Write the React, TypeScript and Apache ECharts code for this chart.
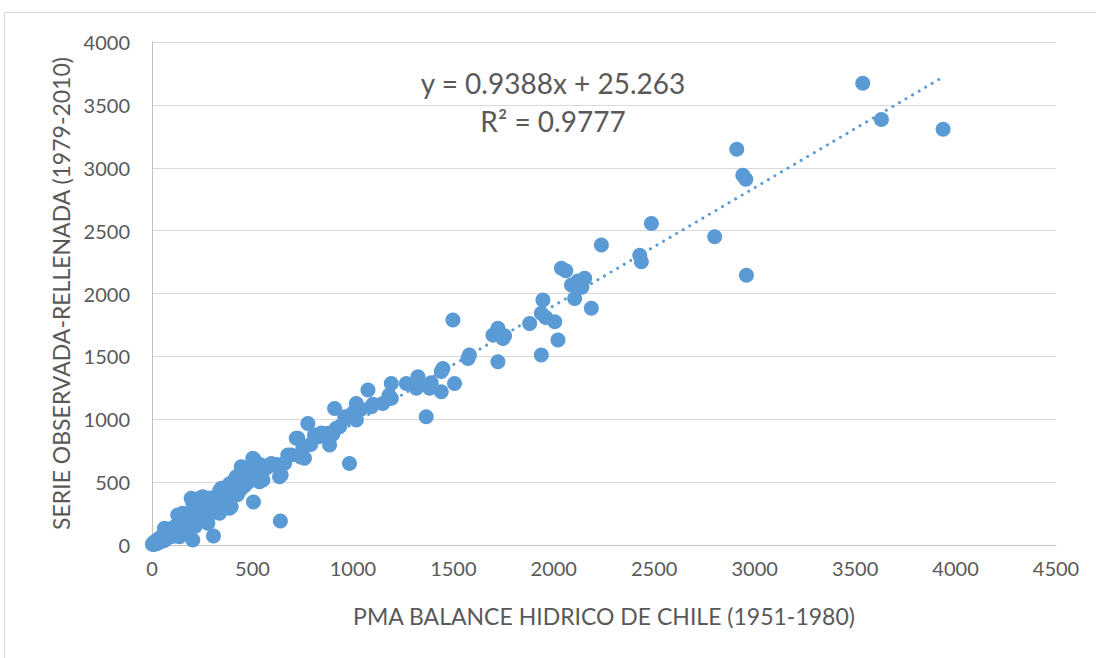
import React, { useEffect, useRef } from "react";
import * as echarts from "echarts";

const xTicks = [0, 500, 1000, 1500, 2000, 2500, 3000, 3500, 4000, 4500];
const yTicks = [0, 500, 1000, 1500, 2000, 2500, 3000, 3500, 4000];

const xName = "PMA BALANCE HIDRICO DE CHILE (1951-1980)";
const yName = "SERIE OBSERVADA-RELLENADA (1979-2010)";

const eqText = "y = 0.9388x + 25.263";
const r2Text = "R² = 0.9777";
const slope = 0.9388;
const intercept = 25.263;

// observed pairs [PMA, serie]
const lowPoints: number[][] = [
  [2, 5], [5, 12], [8, 3], [10, 20], [12, 8], [15, 25], [18, 14], [20, 30], [22, 10], [25, 40],
  [28, 22], [30, 35], [33, 18], [35, 50], [38, 30], [40, 45], [42, 60], [45, 28], [48, 55], [50, 40],
  [52, 70], [55, 48], [58, 62], [60, 80], [62, 35], [62, 133], [65, 72], [68, 90], [70, 55], [72, 100],
  [75, 66], [78, 85], [80, 110], [82, 60], [85, 95], [88, 120], [90, 75], [92, 105], [95, 130], [98, 88],
  [100, 115], [105, 70], [108, 140], [110, 98], [115, 125], [118, 150], [120, 85], [125, 110], [128, 238],
  [132, 167], [135, 130], [137, 66], [140, 160], [145, 120], [150, 180], [153, 252], [155, 100], [160, 140],
  [162, 93], [165, 200], [170, 150], [175, 175], [180, 120], [185, 210], [190, 160], [195, 371], [200, 230],
  [203, 40], [203, 334], [205, 190], [210, 260], [215, 150], [220, 210], [225, 280], [230, 240], [237, 371],
  [240, 200], [245, 300], [250, 260], [253, 384], [255, 220], [260, 320], [265, 280], [270, 225], [275, 340],
  [278, 172], [280, 300], [285, 250], [291, 374], [295, 330], [300, 280], [306, 72], [310, 360], [315, 310],
  [320, 260], [325, 390], [330, 340], [336, 252], [336, 429], [345, 437], [345, 451], [350, 380], [355, 330],
  [360, 410], [365, 300], [370, 440], [375, 370], [385, 485], [386, 292], [394, 305], [400, 420], [402, 503],
  [410, 460], [416, 509], [419, 543], [425, 400], [430, 480], [440, 440], [444, 622], [450, 520], [452, 618],
  [460, 470], [470, 540], [480, 500], [490, 560], [505, 342],
];

const highPoints: number[][] = [
  [502, 689], [510, 676], [510, 600], [520, 560], [535, 503], [544, 636], [552, 517], [560, 600], [575, 620],
  [594, 649], [602, 636], [620, 640], [635, 543], [643, 556], [639, 191], [660, 650], [676, 715], [693, 715],
  [718, 848], [726, 848], [740, 700], [751, 769], [759, 690], [776, 967], [790, 800], [809, 874], [830, 860],
  [844, 890], [876, 888], [884, 795], [900, 880], [909, 1086], [917, 928], [934, 940], [959, 1020], [967, 1007],
  [983, 649], [1000, 1050], [1017, 1126], [1017, 994], [1040, 1080], [1075, 1232], [1092, 1099], [1100, 1120],
  [1149, 1126], [1191, 1166], [1180, 1190], [1191, 1285], [1266, 1285], [1316, 1246], [1324, 1338],
  [1340, 1280], [1365, 1020], [1382, 1246], [1390, 1290], [1440, 1219], [1448, 1404], [1440, 1380],
  [1498, 1789], [1506, 1285], [1573, 1484], [1580, 1510], [1697, 1669], [1722, 1723], [1722, 1457],
  [1747, 1643], [1755, 1665], [1880, 1762], [1938, 1842], [1946, 1948], [1938, 1510], [1960, 1810],
  [2005, 1775], [2021, 1630], [2038, 2200], [2060, 2180], [2088, 2067], [2104, 1961], [2120, 2100],
  [2154, 2122], [2140, 2050], [2187, 1882], [2237, 2385], [2428, 2305], [2436, 2252], [2486, 2557],
  [2801, 2451], [2911, 3148], [2941, 2941], [2956, 2909], [2959, 2146], [3538, 3672], [3631, 3384],
  [3938, 3307],
];

const points = [...lowPoints, ...highPoints];

const FONT = "Lato";
const TXT = "#595959";
const BLUE = "#5b9bd5";

export default function App() {
  const ref = useRef<HTMLDivElement>(null);
  useEffect(() => {
    document.body.style.margin = "0";
    if (!ref.current) return;
    const chart = echarts.init(ref.current, undefined, { renderer: "svg" });
    const xs = points.map((p) => p[0]);
    const xmin = Math.min(...xs);
    const xmax = Math.max(...xs);
    const trend = [
      [xmin, slope * xmin + intercept],
      [xmax, slope * xmax + intercept],
    ];
    chart.setOption({
      animation: false,
      backgroundColor: "#ffffff",
      textStyle: { fontFamily: FONT },
      grid: { left: 152, right: 40, top: 42, bottom: 113 },
      graphic: [
        {
          type: "rect",
          shape: { x: 4.5, y: 12.5, width: 1200, height: 700 },
          style: { fill: "none", stroke: "#d9d9d9", lineWidth: 1 },
          silent: true,
          z: -10,
        },
        {
          type: "text",
          x: 553,
          y: 83,
          style: { text: eqText, fontFamily: FONT, fontSize: 28, fill: TXT, align: "center", verticalAlign: "middle" },
          z: 10,
        },
        {
          type: "text",
          x: 553,
          y: 121,
          style: { text: r2Text, fontFamily: FONT, fontSize: 28, fill: TXT, align: "center", verticalAlign: "middle" },
          z: 10,
        },
      ],
      xAxis: {
        type: "value",
        min: xTicks[0],
        max: xTicks[xTicks.length - 1],
        interval: xTicks[1] - xTicks[0],
        name: xName,
        nameLocation: "middle",
        nameGap: 59,
        nameTextStyle: { fontFamily: FONT, fontSize: 23, color: TXT },
        axisLine: { show: true, lineStyle: { color: "#bfbfbf", width: 1 } },
        axisTick: { show: false },
        splitLine: { show: false },
        axisLabel: { color: TXT, fontFamily: FONT, fontSize: 20, margin: 13, formatter: (v: number) => String(v) },
      },
      yAxis: {
        type: "value",
        min: yTicks[0],
        max: yTicks[yTicks.length - 1],
        interval: yTicks[1] - yTicks[0],
        name: yName,
        nameLocation: "middle",
        nameGap: 78,
        nameTextStyle: { fontFamily: FONT, fontSize: 23, color: TXT },
        axisLine: { show: true, lineStyle: { color: "#bfbfbf", width: 1 } },
        axisTick: { show: false },
        splitLine: { show: true, lineStyle: { color: "#d9d9d9", width: 1 } },
        axisLabel: { color: TXT, fontFamily: FONT, fontSize: 20, margin: 22, formatter: (v: number) => String(v) },
      },
      series: [
        {
          type: "scatter",
          data: points,
          symbol: "circle",
          symbolSize: 15,
          itemStyle: { color: BLUE, opacity: 1 },
          z: 2,
        },
        {
          type: "line",
          data: trend,
          symbol: "none",
          lineStyle: { color: BLUE, width: 3, type: [0.1, 7.5], cap: "round" },
          z: 3,
        },
      ],
    });
    return () => chart.dispose();
  }, []);
  return <div ref={ref} style={{ width: 1096, height: 658 }} />;
}
